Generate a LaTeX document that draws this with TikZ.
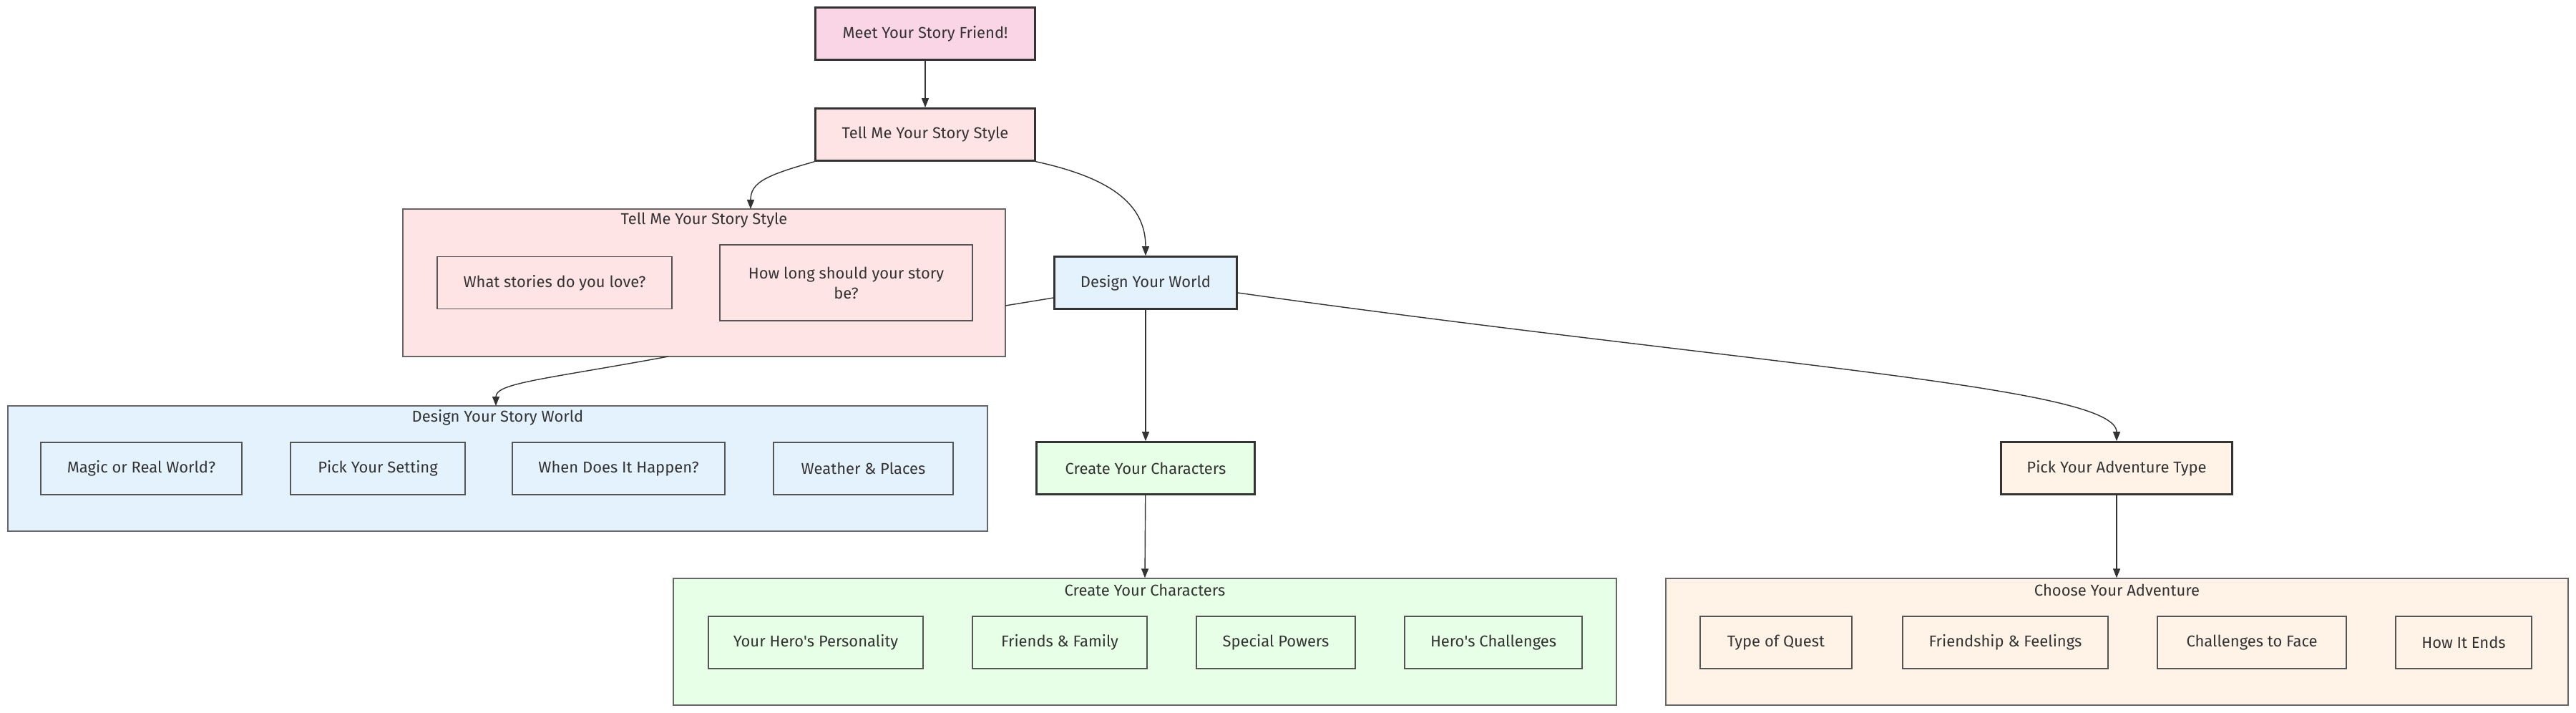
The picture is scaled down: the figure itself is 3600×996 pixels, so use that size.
\documentclass[tikz,border=0pt]{standalone}
\usepackage{fontspec}
\setmainfont{Fira Sans}
\usetikzlibrary{arrows.meta}
\definecolor{ink}{HTML}{333333}
\definecolor{boxline}{HTML}{555555}
\definecolor{grpline}{HTML}{666666}
\definecolor{meetpink}{HTML}{F9D5E5}
\definecolor{tellpink}{HTML}{FFE4E6}
\definecolor{worldblue}{HTML}{E3F2FD}
\definecolor{charsgreen}{HTML}{E6FFE6}
\definecolor{advpeach}{HTML}{FFF2E6}

\begin{document}
\begin{tikzpicture}[x=0.02cm, y=-0.02cm,
    every node/.style={font=\fontsize{12.5}{16}\selectfont, text=ink},
    mainbox/.style={draw=ink, line width=1.5pt, minimum height=1.46cm, inner sep=0pt},
    subbox/.style={draw=boxline, line width=0.7pt, minimum height=1.46cm, inner sep=0pt},
    groupbox/.style={draw=grpline, line width=0.8pt, inner sep=0pt},
    link/.style={draw=ink, line width=0.8pt},
    arr/.style={link, -{Triangle[length=0.26cm, width=0.2cm]}}]
        \fill[white] (0,0) rectangle (3600,996);
        \useasboundingbox (0,0) rectangle (3600,996);
        % groups
        \node[groupbox, fill=tellpink, minimum width=16.84cm, minimum height=4.12cm] (styleGrp) at (984,395){};
        \node (styleTitle) at (984,308){Tell Me Your Story Style};
        \node[groupbox, fill=worldblue, minimum width=27.38cm, minimum height=3.5cm] (worldGrp) at (695.5,654.5){};
        \node (worldTitle) at (695.5,583){Design Your Story World};
        \node[groupbox, fill=charsgreen, minimum width=26.36cm, minimum height=3.54cm] (charsGrp) at (1600,896.5){};
        \node (charsTitle) at (1600,824){Create Your Characters};
        \node[groupbox, fill=advpeach, minimum width=25.22cm, minimum height=3.54cm] (advGrp) at (2958.5,896.5){};
        \node (advTitle) at (2958.5,824){Choose Your Adventure};
        % main steps
        \node[mainbox, fill=meetpink, minimum width=6.14cm] (meet) at (1293,47){Meet Your Story Friend!};
        \node[mainbox, fill=tellpink, minimum width=6.14cm] (tell) at (1293,188){Tell Me Your Story Style};
        \node[mainbox, fill=worldblue, minimum width=5.1cm] (world) at (1601,395){Design Your World};
        \node[mainbox, fill=charsgreen, minimum width=6.1cm] (chars) at (1601,654){Create Your Characters};
        \node[mainbox, fill=advpeach, minimum width=6.46cm] (adv) at (2958,654){Pick Your Adventure Type};
        % story style questions
        \node[subbox, fill=tellpink, minimum width=6.56cm] (love) at (775,395){What stories do you love?};
        \node[subbox, fill=tellpink, minimum width=7.06cm, minimum height=2.12cm, align=center] (long) at (1182.5,395){How long should your story\\be?};
        % world questions
        \node[subbox, fill=worldblue, minimum width=5.62cm] (magic) at (197.5,654.5){Magic or Real World?};
        \node[subbox, fill=worldblue, minimum width=4.88cm] (setting) at (528,654.5){Pick Your Setting};
        \node[subbox, fill=worldblue, minimum width=5.94cm] (when) at (864.5,654.5){When Does It Happen?};
        \node[subbox, fill=worldblue, minimum width=5.02cm] (weather) at (1206.5,654.5){Weather \& Places};
        % character questions
        \node[subbox, fill=charsgreen, minimum width=6cm] (hero) at (1140,897.5){Your Hero\textquotesingle s Personality};
        \node[subbox, fill=charsgreen, minimum width=4.88cm] (family) at (1481,897.5){Friends \& Family};
        \node[subbox, fill=charsgreen, minimum width=4.44cm] (powers) at (1783,897.5){Special Powers};
        \node[subbox, fill=charsgreen, minimum width=4.96cm] (trials) at (2087,897.5){Hero\textquotesingle s Challenges};
        % adventure questions
        \node[subbox, fill=advpeach, minimum width=4.24cm] (quest) at (2482,897.5){Type of Quest};
        \node[subbox, fill=advpeach, minimum width=5.74cm] (feelings) at (2802.5,897.5){Friendship \& Feelings};
        \node[subbox, fill=advpeach, minimum width=5.28cm] (face) at (3147,897.5){Challenges to Face};
        \node[subbox, fill=advpeach, minimum width=3.8cm] (ends) at (3443,897.5){How It Ends};
        % connectors
        \coordinate (styleIn) at (1049,292);
        \coordinate (styleOut) at (1405,427);
        \coordinate (styleBot) at (934,498);
        \coordinate (worldIn) at (693,567);
        \draw[arr] (meet) -- (tell);
        \draw[arr] (tell.south west) .. controls (1070,245) and (1049,255) .. (styleIn);
        \draw[arr] (tell.south east) .. controls (1560,250) and (1601,290) .. (world.north);
        \draw[link] (world) -- (styleOut);
        \draw[arr] (styleBot) .. controls (760,530) and (693,535) .. (worldIn);
        \draw[arr] (world) -- (chars);
        \draw[arr] ([yshift=-0.28cm]world.east) .. controls (2450,510) and (2958,540) .. (adv.north);
        \draw[arr] (chars) -- (charsGrp.north);
        \draw[arr] (adv) -- (adv |- advGrp.north);
    \end{tikzpicture}
\end{document}
